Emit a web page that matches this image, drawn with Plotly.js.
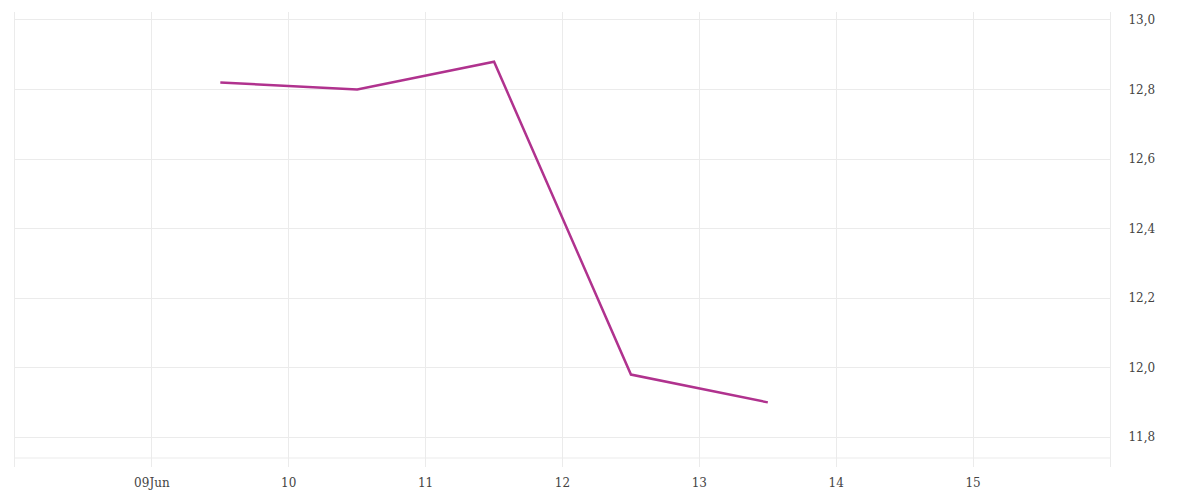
<!DOCTYPE html>
<html>
<head>
<meta charset="utf-8">
<script src="https://cdn.plot.ly/plotly-3.0.1.min.js"></script>
<style>html,body{margin:0;padding:0;background:#fff;}#chart{width:1200px;height:500px;}</style>
</head>
<body>
<div id="chart"></div>
<script>
var dates = ["2024-06-09 12:00", "2024-06-10 12:00", "2024-06-11 12:00", "2024-06-12 12:00", "2024-06-13 12:00"];
var values = [12.82, 12.80, 12.88, 11.98, 11.90];
var xTickVals = ["2024-06-09", "2024-06-10", "2024-06-11", "2024-06-12", "2024-06-13", "2024-06-14", "2024-06-15"];
var xTickText = ["09Jun", "10", "11", "12", "13", "14", "15"];
var yTickVals = [11.8, 12.0, 12.2, 12.4, 12.6, 12.8, 13.0];

var grid = "#ebebeb";
var fnt = {family: "'DejaVu Serif', serif", size: 12, color: "#444"};
var trace = {
  x: dates, y: values, type: "scatter", mode: "lines",
  line: {color: "#b0328e", width: 2.5},
  hoverinfo: "skip"
};
var layout = {
  width: 1200, height: 500,
  margin: {l: 15, r: 90, t: 12, b: 33},
  paper_bgcolor: "#fff", plot_bgcolor: "#fff",
  separators: ",.",
  showlegend: false,
  font: fnt,
  xaxis: {
    type: "date",
    range: ["2024-06-08", "2024-06-16"],
    tickmode: "array", tickvals: xTickVals, ticktext: xTickText,
    showgrid: true, gridcolor: grid, gridwidth: 1,
    zeroline: false, showline: false, ticks: "", ticklabelstandoff: 7,
    tickfont: fnt
  },
  yaxis: {
    side: "right",
    range: [11.714, 13.023],
    tickmode: "array", tickvals: yTickVals, tickformat: ".1f",
    showgrid: true, gridcolor: grid, gridwidth: 1,
    zeroline: false, showline: true, mirror: true, linecolor: grid, linewidth: 1,
    ticks: "", ticklabelstandoff: 15,
    tickfont: fnt
  },
  shapes: [{
    type: "line", xref: "paper", yref: "paper", x0: 0, x1: 1, y0: 0.0198, y1: 0.0198,
    line: {color: grid, width: 1}, layer: "below"
  }]
};
Plotly.newPlot("chart", [trace], layout, {staticPlot: true, displayModeBar: false});
</script>
</body>
</html>
